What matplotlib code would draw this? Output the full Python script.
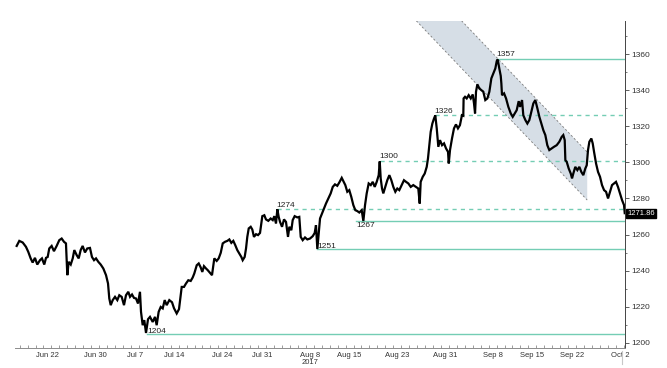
import numpy as np
import pandas as pd
import matplotlib
matplotlib.use('Agg')
import matplotlib.pyplot as plt
import matplotlib.transforms as mtransforms
from matplotlib.ticker import FixedLocator, MultipleLocator

plt.rcParams['font.family'] = ['Liberation Sans', 'DejaVu Sans']

# trading days from Mon 19 Jun 2017, x axis counts business days
start_day = '2017-06-19'
end_day = '2017-10-03'
tick_dates = ['2017-06-22', '2017-06-30', '2017-07-07', '2017-07-14', '2017-07-24',
              '2017-07-31', '2017-08-08', '2017-08-15', '2017-08-23', '2017-08-31',
              '2017-09-08', '2017-09-15', '2017-09-22', '2017-10-02']
tick_labels = ['Jun 22', 'Jun 30', 'Jul 7', 'Jul 14', 'Jul 24', 'Jul 31', 'Aug 8\n2017',
               'Aug 15', 'Aug 23', 'Aug 31', 'Sep 8', 'Sep 15', 'Sep 22', 'Oct 2']

# gold price (time in trading days since 19 Jun)
t_days = [
    -0.87, -0.54, -0.11, 0.30, 0.59, 0.89, 1.14, 1.43, 1.72, 2.06, 2.31, 2.60, 2.82, 3.03, 3.23,
    3.53, 3.82, 4.16, 4.49, 4.79, 5.08, 5.33, 5.50, 5.67, 5.93, 6.18, 6.38, 6.68, 6.93, 7.18,
    7.43, 7.72, 8.01, 8.35, 8.60, 8.86, 9.11, 9.40, 9.70, 10.03, 10.37, 10.62, 10.78, 10.96, 11.21,
    11.50, 11.79, 12.04, 12.34, 12.63, 12.88, 13.17, 13.39, 13.64, 13.89, 14.14, 14.39, 14.64, 14.77, 14.98,
    15.18, 15.40, 15.65, 15.90, 16.24, 16.53, 16.74, 16.99, 17.25, 17.50, 17.75, 18.00, 18.33,
    18.67, 18.92, 19.26, 19.55,
    19.89, 20.18, 20.43, 20.72, 21.02, 21.27, 21.47, 21.78, 22.03, 22.28, 22.48, 22.69, 22.95, 23.16, 23.45,
    23.70, 23.86, 23.99, 24.29, 24.54, 24.80, 25.05, 25.34, 25.63, 25.88, 26.13, 26.38, 26.63, 26.88, 27.14,
    27.39, 27.56, 27.81, 27.98, 28.14, 28.32, 28.57, 28.77, 28.98, 29.24, 29.49, 29.74, 29.90, 30.03, 30.28,
    30.49, 30.78, 31.08, 31.34, 31.54, 31.75, 31.92, 32.09, 32.26, 32.51, 32.76, 33.01, 33.26, 33.43, 33.68,
    33.85, 34.10, 34.43, 34.68, 34.86, 35.11, 35.40, 35.69, 36.03, 36.37, 36.62, 36.78, 36.95, 37.12,
    37.29, 37.70, 38.04, 38.33, 38.63, 38.89, 39.17, 39.46, 39.72, 40.02, 40.22, 40.47, 40.72, 40.97, 41.22,
    41.48, 41.73, 41.98, 42.23, 42.53, 42.74, 42.95, 43.16, 43.41, 43.67, 43.92, 44.17, 44.42, 44.67, 44.80,
    44.92, 45.09, 45.25, 45.50, 45.75, 46.01, 46.26, 46.51, 46.76, 47.01, 47.26, 47.56, 47.85, 48.11, 48.40,
    48.70, 49.02, 49.36, 49.65, 49.83, 49.95, 50.21, 50.46, 50.71, 50.87, 51.04, 51.21, 51.42, 51.63, 51.79,
    51.97, 52.17, 52.38, 52.64, 52.89, 53.14, 53.39, 53.48, 53.64, 53.89, 54.14, 54.39, 54.64, 54.89, 55.14, 55.31,
    55.35, 55.53, 55.74, 55.99, 56.25, 56.50, 56.66, 56.79, 56.91, 57.08, 57.33, 57.58, 57.83, 58.08, 58.34,
    58.59, 58.84, 59.09, 59.34, 59.52, 59.64, 59.84, 60.02, 60.10, 60.18, 60.44, 60.69, 60.98, 61.28, 61.53,
    61.78, 62.03, 62.28, 62.45, 62.70, 62.86, 63.12, 63.37, 63.62, 63.87, 64.12, 64.37, 64.63, 64.88, 65.13,
    65.38, 65.63, 65.88, 66.13, 66.43, 66.72, 67.06, 67.39, 67.69, 67.89, 68.07, 68.15, 68.32, 68.57, 68.83,
    68.99, 69.15, 69.40, 69.66, 69.91, 70.16, 70.41, 70.66, 70.84, 71.00, 71.17, 71.42, 71.59, 71.76, 72.01,
    72.26, 72.51, 72.76, 73.02, 73.27, 73.52, 73.77, 74.02, 74.27, 74.52, 74.77, 75.02, 75.28, 75.53, 75.62,
]
price = [
    1253.7, 1256.5, 1255.6, 1253.2, 1250.4, 1246.8, 1244.5, 1247.1, 1243.4, 1245.8, 1246.8, 1243.4, 1247.1, 1247.6, 1252.3,
    1253.7, 1250.8, 1253.7, 1256.9, 1257.8, 1256.0, 1255.1, 1237.5, 1244.9, 1243.4, 1246.8, 1251.4, 1248.6, 1246.8, 1251.4,
    1253.7, 1250.1, 1252.3, 1252.6, 1247.6, 1245.8, 1246.8, 1244.9, 1243.4, 1241.2, 1237.5, 1232.9, 1224.6, 1220.9, 1223.7,
    1225.5, 1223.7, 1226.4, 1225.5, 1220.9, 1226.4, 1228.3, 1225.5, 1226.8, 1224.9, 1224.6, 1221.8, 1228.3, 1217.2, 1209.8,
    1212.6, 1205.5, 1213.1, 1214.4, 1211.6, 1214.4, 1209.8, 1217.2, 1219.9, 1219.1, 1223.7, 1220.9, 1223.7,
    1222.5, 1219.2, 1216.3, 1218.7,
    1231.0, 1231.0, 1232.9, 1234.7, 1234.3, 1236.2, 1238.4, 1243.0, 1244.0, 1241.8, 1239.3, 1242.5, 1241.2, 1240.3, 1238.8,
    1237.5, 1242.5, 1246.8, 1245.4, 1246.8, 1249.9, 1255.1, 1256.0, 1256.5, 1257.3, 1255.4, 1256.5, 1254.1, 1251.4, 1249.5,
    1247.6, 1245.8, 1247.6, 1252.3, 1258.7, 1263.4, 1264.3, 1262.8, 1258.7, 1260.2, 1259.7, 1260.9, 1266.1, 1270.2, 1270.7,
    1268.4, 1267.6, 1268.9, 1268.0, 1270.2, 1266.1, 1274.0, 1269.8, 1267.0, 1264.3, 1268.4, 1267.0, 1258.7, 1264.3, 1262.4,
    1268.0, 1270.2, 1269.5, 1269.8, 1258.7, 1256.9, 1258.4, 1257.3, 1257.8, 1259.1, 1260.9, 1265.2, 1252.0, 1260.6,
    1268.9, 1273.5, 1277.2, 1280.0, 1282.8, 1286.4, 1287.8, 1287.0, 1288.9, 1291.4, 1289.6, 1287.4, 1283.7, 1284.6, 1280.9,
    1276.3, 1273.5, 1273.0, 1272.2, 1273.5, 1267.5, 1276.3, 1282.8, 1288.3, 1287.4, 1289.2, 1286.4, 1289.2, 1292.9, 1300.5,
    1291.1, 1285.5, 1282.8, 1286.4, 1290.1, 1292.9, 1290.1, 1286.4, 1283.7, 1285.5, 1284.6, 1287.4, 1290.1, 1289.2, 1288.3,
    1286.4, 1287.4, 1286.4, 1285.5, 1277.2, 1289.2, 1292.0, 1293.8, 1297.5, 1302.2, 1309.5, 1316.9, 1321.5, 1324.3, 1326.0,
    1318.8, 1308.6, 1312.3, 1309.5, 1310.5, 1307.7, 1305.8, 1299.4, 1306.8, 1313.2, 1318.8, 1321.0, 1318.8, 1320.6, 1326.1, 1325.8,
    1335.4, 1336.3, 1335.4, 1337.2, 1335.4, 1337.6, 1332.6, 1327.1, 1339.1, 1343.2, 1340.9, 1340.0, 1339.1, 1334.5, 1335.4,
    1339.1, 1346.5, 1349.2, 1352.0, 1356.1, 1357.0, 1352.0, 1347.9, 1343.7, 1337.2, 1338.2, 1335.4, 1330.7, 1327.1, 1325.2,
    1327.1, 1328.9, 1333.9, 1330.7, 1334.5, 1326.1, 1323.4, 1321.5, 1323.4, 1328.0, 1332.6, 1334.5, 1329.9, 1325.2, 1321.5,
    1317.8, 1315.1, 1309.5, 1306.8, 1307.7, 1308.6, 1309.5, 1311.4, 1314.1, 1315.1, 1312.3, 1301.2, 1300.3, 1296.6, 1293.8,
    1291.1, 1293.8, 1297.5, 1295.7, 1297.5, 1294.7, 1292.9, 1296.6, 1298.4, 1306.8, 1311.4, 1313.2, 1310.5, 1305.8, 1299.4,
    1294.7, 1292.0, 1287.4, 1284.6, 1283.7, 1280.0, 1283.7, 1287.4, 1288.3, 1289.2, 1286.4, 1282.8, 1279.1, 1276.3, 1271.86,
]
last_price = 1271.86

# support / resistance levels
level_values = [1357.5, 1326.1, 1301.0, 1274.0, 1267.3, 1251.9, 1205.0]
level_labels = ['1357', '1326', '1300', '1274', '1267', '1251', '1204']
level_start = [59.55, 51.76, 44.84, 31.88, 41.8, 36.91, 15.52]
level_dashed = [False, True, True, True, False, False, False]
label_side = ['above', 'above', 'above', 'above', 'below', 'on', 'on']

# falling channel: (day, price) at both ends of each edge
chan_lower = [(49.4, 1378.4), (70.9, 1279.1)]
chan_upper = [(55.1, 1378.4), (70.9, 1305.7)]

days = pd.bdate_range(start_day, end_day)
tick_pos = [days.get_loc(pd.Timestamp(d)) for d in tick_dates]

lvl_col = '#74cdb4'
fig = plt.figure(figsize=(6.67, 3.68), dpi=100)
ax = fig.add_axes([0.0225, 0.054, 0.9145, 0.8895])

# channel
poly_x = [chan_lower[0][0], chan_lower[1][0], chan_upper[1][0], chan_upper[0][0]]
poly_y = [chan_lower[0][1], chan_lower[1][1], chan_upper[1][1], chan_upper[0][1]]
ax.fill(poly_x, poly_y, color='#d6dee6', lw=0, zorder=1)
for edge in (chan_lower, chan_upper):
    ax.plot([edge[0][0], edge[1][0]], [edge[0][1], edge[1][1]], color='#7a7a7a',
            lw=0.6, ls=(0, (2.5, 2.5)), zorder=2)

# levels
for v, lab, x0, dsh, side in zip(level_values, level_labels, level_start, level_dashed, label_side):
    ax.plot([x0, 76.5], [v, v], color=lvl_col, lw=1.0,
            ls=(0, (3, 3)) if dsh else '-', zorder=2)
    if side == 'above':
        ax.text(x0 - 0.1, v + 0.3, lab, fontsize=6, ha='left', va='bottom', color='#222')
    elif side == 'below':
        ax.text(x0, v - 0.5, lab, fontsize=6, ha='left', va='top', color='#222')
    else:
        ax.text(x0 + 0.1, v + 1.3, lab, fontsize=6, ha='left', va='center', color='#222')

ax.plot(t_days, price, color='black', lw=1.6, solid_joinstyle='miter', zorder=3)

ax.set_xlim(-1.08, 75.65)
ax.set_ylim(1197.1, 1378.4)

for s in ['top', 'left']:
    ax.spines[s].set_visible(False)
ax.spines['bottom'].set_color('#8c8c8c')
ax.spines['bottom'].set_linewidth(0.7)
ax.spines['right'].set_color('#444')
ax.spines['right'].set_linewidth(0.7)

ax.yaxis.tick_right()
ax.yaxis.set_major_locator(MultipleLocator(20))
ax.yaxis.set_minor_locator(MultipleLocator(10))
ax.tick_params(axis='y', which='major', direction='out', length=3, width=0.6,
               labelsize=6, pad=1.5, colors='#444', labelcolor='#333')
ax.tick_params(axis='y', which='minor', direction='out', length=1.5, width=0.5, colors='#444')

ax.set_xticks(tick_pos)
ax.set_xticklabels(tick_labels)
ax.xaxis.set_minor_locator(FixedLocator(np.arange(-0.5, 76, 1)))
ax.tick_params(axis='x', which='major', length=0, labelsize=5.5, pad=2.5, labelcolor='#333')
ax.tick_params(axis='x', which='minor', direction='in', length=2.5, width=0.6, colors='#8c8c8c')
for lbl in ax.get_xticklabels():
    lbl.set_linespacing(1.0)

# last price tag
trans = mtransforms.blended_transform_factory(ax.transAxes, ax.transData)
ax.text(1.004, last_price, f'{last_price:.2f}', transform=trans, fontsize=5.5, color='white',
        ha='left', va='center', bbox=dict(boxstyle='square,pad=0.15', fc='black', ec='black'))
ax.plot([75.3, 75.3], [-0.01, -0.05], transform=ax.get_xaxis_transform(), clip_on=False,
        color='#c8c8c8', lw=0.8)

fig.savefig('out.png', dpi=100)
